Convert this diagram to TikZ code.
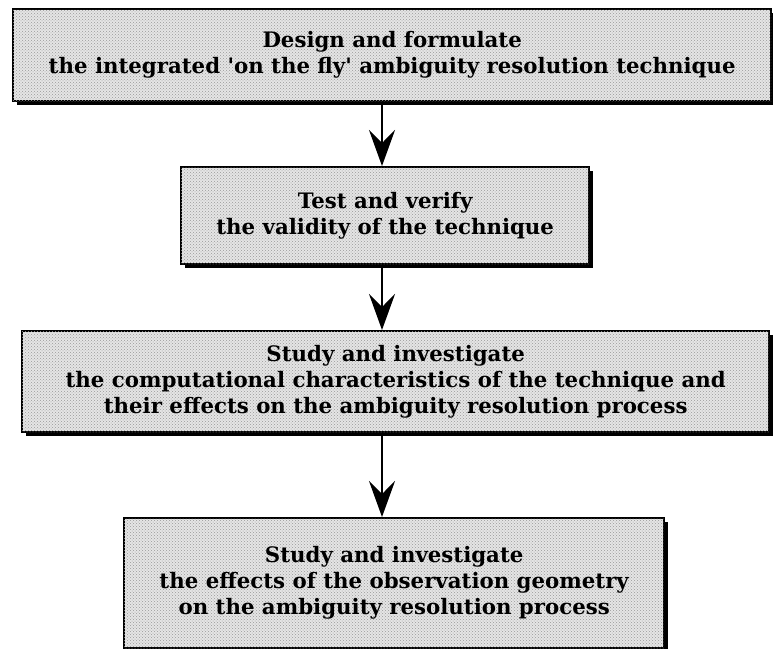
\documentclass[tikz,border=0pt]{standalone}
\usepackage{fontspec}
\setmainfont{DejaVu Serif}[Ligatures=TeXOff]
\usetikzlibrary{arrows.meta,shadows,patterns}
\tikzset{
  stepbox/.style={draw=black, line width=2.4pt, fill=black!10,
    postaction={pattern=crosshatch dots, pattern color=black!40},
    drop shadow={shadow xshift=4pt, shadow yshift=-4pt, fill=black, opacity=1},
    anchor=north west, align=center, inner sep=0pt,
    font=\fontsize{21.3}{26}\selectfont\bfseries},
  flow/.style={line width=2.2pt, -{Stealth[length=36pt, width=26pt, inset=13pt]}}
}
\begin{document}
\begin{tikzpicture}[x=1pt,y=-1pt]
\useasboundingbox (0,0) rectangle (773,648);
\node[stepbox, minimum width=758pt, minimum height=92pt] (b1) at (12,8)
  {Design and formulate\\the integrated 'on the fly' ambiguity resolution technique};
\node[stepbox, minimum width=408pt, minimum height=97pt] (b2) at (180,166)
  {Test and verify\\the validity of the technique};
\node[stepbox, minimum width=747pt, minimum height=101pt] (b3) at (21,330)
  {Study and investigate\\the computational characteristics of the technique and\\their effects on the ambiguity resolution process};
\node[stepbox, minimum width=540pt, minimum height=130pt] (b4) at (123,517)
  {Study and investigate\\the effects of the observation geometry\\on the ambiguity resolution process};
\coordinate (ax) at (382,0);
\draw[flow] (b1.south -| ax) -- (b2.north -| ax);
\draw[flow] (b2.south -| ax) -- (b3.north -| ax);
\draw[flow] (b3.south -| ax) -- (b4.north -| ax);
\end{tikzpicture}
\end{document}
